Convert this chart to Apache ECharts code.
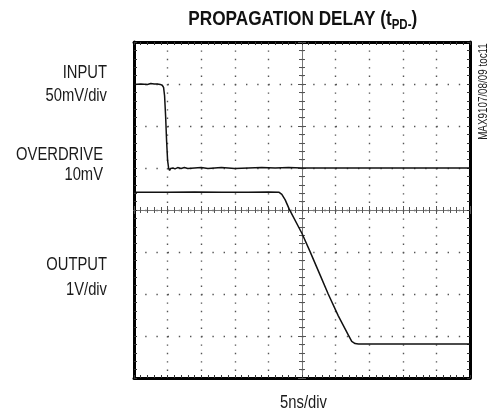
<!DOCTYPE html>
<html><head><meta charset="utf-8">
<script src="https://cdn.jsdelivr.net/npm/echarts@6/dist/echarts.min.js"></script>
<style>html,body{margin:0;padding:0;background:#fff}#c{width:489px;height:416px}</style>
</head><body><div id="c"></div>
<script>
// time axis in ns (5 ns/div, centre = 0), vertical in screen divisions (centre = 0)
const inputTimeNs = [-25,-24,-23,-22.5,-22,-21.5,-21.1,-20.8,-20.6,-20.45,-20.3,-20.15,-20.0,-19.85,-19.7,-19.55,-19.4,-19.2,-18.9,-18.5,-18.0,-17.5,-17.0,-16.0,-15.0,-14.0,-13.0,-12.0,-10.0,-8.0,-6,-4,-2,0,5,10,15,20,25];
const inputDiv = [2.99,3.0,2.99,3.01,3.0,3.0,2.99,2.97,2.92,2.72,2.25,1.65,1.18,1.0,0.94,0.99,0.95,1.0,0.98,1.01,0.99,1.01,0.99,1.0,1.01,0.99,1.0,1.01,0.99,1.0,1.01,1.0,1.01,1.0,1.0,1.0,1.0,1.0,1.0];
const outputTimeNs = [-25,-20,-16,-12,-8,-5,-3.4,-3.0,-2.5,-1.9,0,1.2,2.7,3.9,5.4,6.9,7.4,7.9,8.4,15,25];
const outputDiv = [0.42,0.42,0.43,0.42,0.42,0.43,0.42,0.37,0.24,0.02,-0.56,-0.99,-1.55,-2.0,-2.52,-2.98,-3.13,-3.18,-3.19,-3.19,-3.19];
const xRange = [-25, 25], xStep = 5;
const yRange = [-4, 4], yStep = 1;
const sideLabels = [
  {text:'INPUT', x:107, y:73.5},
  {text:'50mV/div', x:107, y:96.5},
  {text:'OVERDRIVE', x:103, y:155},
  {text:'10mV', x:103, y:175.5},
  {text:'OUTPUT', x:107, y:265.5},
  {text:'1V/div', x:107, y:290}
];

const FONT = '"Liberation Sans", Arial, sans-serif';
const NARROW = 0.82;
const chart = echarts.init(document.getElementById('c'), null, {renderer:'canvas'});

function xAx(pos, onZero, extra) {
  return Object.assign({
    type:'value', min:xRange[0], max:xRange[1], interval:xStep, position:pos,
    axisLabel:{show:false}, splitLine:{show:false},
    axisLine:{show:true, onZero:onZero, onZeroAxisIndex:0, lineStyle:{color:'#000', width:3}},
    axisTick:{show:true, inside:true, length:3, lineStyle:{color:'#333', width:1}},
    minorTick:{show:true, splitNumber:5, length:3, lineStyle:{color:'#333', width:1}}
  }, extra || {});
}
function yAx(pos, onZero, extra) {
  return Object.assign({
    type:'value', min:yRange[0], max:yRange[1], interval:yStep, position:pos,
    axisLabel:{show:false}, splitLine:{show:false},
    axisLine:{show:true, onZero:onZero, onZeroAxisIndex:0, lineStyle:{color:'#000', width:3}},
    axisTick:{show:true, inside:true, length:3, lineStyle:{color:'#333', width:1}},
    minorTick:{show:true, splitNumber:5, length:3, lineStyle:{color:'#333', width:1}}
  }, extra || {});
}
const centreLine = {show:true, onZero:true, onZeroAxisIndex:0, lineStyle:{color:'#777', width:1}};

const texts = sideLabels.map(l => ({
  type:'text', x:l.x, y:l.y, scaleX:NARROW, silent:true,
  style:{text:l.text, fontSize:18, fontFamily:FONT, fill:'#1a1a1a', align:'right', verticalAlign:'middle', textAlign:'right', textVerticalAlign:'middle'}
}));
texts.push({
  type:'text', x:303.5, y:403.5, scaleX:NARROW, silent:true,
  style:{text:'5ns/div', fontSize:18, fontFamily:FONT, fill:'#1a1a1a', align:'center', verticalAlign:'middle', textAlign:'center', textVerticalAlign:'middle'}
});
texts.push({
  type:'text', x:484, y:91.5, rotation:Math.PI/2, scaleX:NARROW, silent:true,
  style:{text:'MAX9107/08/09 toc11', fontSize:12, fontFamily:FONT, fill:'#1a1a1a', align:'center', verticalAlign:'middle', textAlign:'center', textVerticalAlign:'middle'}
});
texts.push({
  type:'text', x:302.7, y:19, scaleX:NARROW, silent:true,
  style:{text:'{a|PROPAGATION DELAY (t}{b|PD-}{a|)}', align:'center', verticalAlign:'middle', textAlign:'center', textVerticalAlign:'middle',
    rich:{
      a:{fontSize:21, fontWeight:'bold', fontFamily:FONT, fill:'#111', color:'#111'},
      b:{fontSize:14, fontWeight:'bold', fontFamily:FONT, fill:'#111', color:'#111', padding:[12,0,0,0]}
    }}
});

chart.setOption({
  animation:false,
  backgroundColor:'#fff',
  grid:{left:134, top:42, width:336, height:336, containLabel:false},
  xAxis:[
    xAx('bottom', false, {splitLine:{show:true, lineStyle:{color:'#555', width:1.4, type:[1.4,7.0]}}}),
    xAx('top', false),
    xAx('bottom', true, {axisLine:centreLine, axisTick:{show:true, inside:true, length:4, lineStyle:{color:'#555'}}, minorTick:{show:true, splitNumber:5, length:3, lineStyle:{color:'#555'}}}),
    xAx('top', true, {axisLine:centreLine, axisTick:{show:true, inside:true, length:4, lineStyle:{color:'#555'}}, minorTick:{show:true, splitNumber:5, length:3, lineStyle:{color:'#555'}}})
  ],
  yAxis:[
    yAx('left', false, {splitLine:{show:true, lineStyle:{color:'#555', width:1.4, type:[1.4,9.8]}}}),
    yAx('right', false),
    yAx('left', true, {axisLine:centreLine, axisTick:{show:true, inside:true, length:4, lineStyle:{color:'#555'}}, minorTick:{show:true, splitNumber:5, length:3, lineStyle:{color:'#555'}}}),
    yAx('right', true, {axisLine:centreLine, axisTick:{show:true, inside:true, length:4, lineStyle:{color:'#555'}}, minorTick:{show:true, splitNumber:5, length:3, lineStyle:{color:'#555'}}})
  ],
  series:[
    {type:'line', name:'INPUT', xAxisIndex:0, yAxisIndex:0, showSymbol:false, silent:true,
     lineStyle:{color:'#111', width:1.5}, data:inputTimeNs.map((t,i)=>[t, inputDiv[i]])},
    {type:'line', name:'OUTPUT', xAxisIndex:0, yAxisIndex:0, showSymbol:false, silent:true,
     lineStyle:{color:'#111', width:1.5}, data:outputTimeNs.map((t,i)=>[t, outputDiv[i]])}
  ],
  graphic:texts
});
</script></body></html>
